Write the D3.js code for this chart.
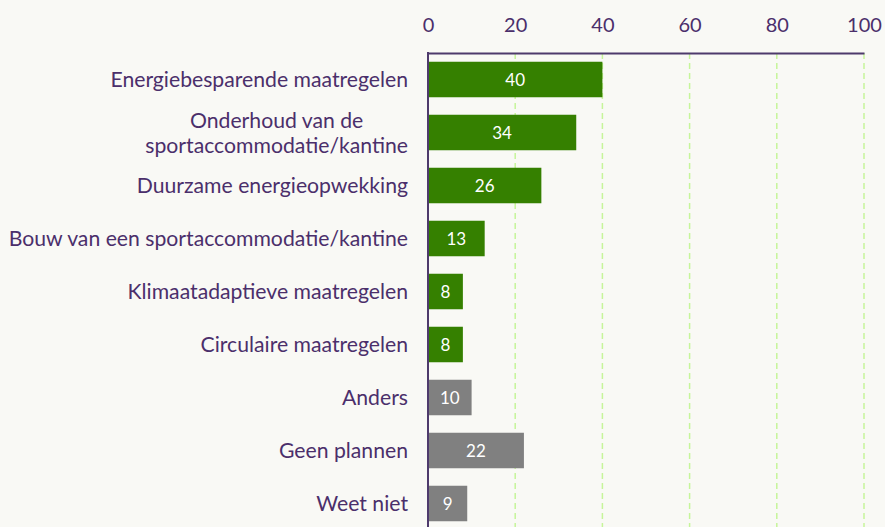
<!DOCTYPE html>
<html>
<head>
<meta charset="utf-8">
<script src="https://cdn.jsdelivr.net/npm/d3@7"></script>
<style>
  html, body { margin: 0; padding: 0; background: #f9f9f5; }
  svg { display: block; }
</style>
</head>
<body>
<svg id="chart" width="885" height="527"></svg>
<script>
// Plans per category (percentages)
const categories = [
  "Energiebesparende maatregelen",
  "Onderhoud van de\nsportaccommodatie/kantine",
  "Duurzame energieopwekking",
  "Bouw van een sportaccommodatie/kantine",
  "Klimaatadaptieve maatregelen",
  "Circulaire maatregelen",
  "Anders",
  "Geen plannen",
  "Weet niet"
];
const values = [40, 34, 26, 13, 8, 8, 10, 22, 9];
const groups = ["green", "green", "green", "green", "green", "green", "grey", "grey", "grey"];
const xTicks = [0, 20, 40, 60, 80, 100];

const colors = { green: "#358000", grey: "#808080" };
const textColor = "#4b2f6b";
const axisColor = "#4e3a6c";
const font = "Lato, 'Open Sans', sans-serif";

const svg = d3.select("#chart");
const plotLeft = 428, plotRight = 864, plotTop = 53, plotBottom = 530;

const x = d3.scaleLinear().domain([0, 100]).range([plotLeft, plotRight]);
const y = d3.scaleBand().domain(d3.range(categories.length)).range([plotTop, plotBottom]).paddingInner(0.33).paddingOuter(0.165);

// dashed gridlines
svg.append("g").selectAll("line").data(xTicks.filter(d => d > 0)).join("line")
  .attr("x1", d => x(d)).attr("x2", d => x(d))
  .attr("y1", plotTop).attr("y2", 527)
  .attr("stroke", "#c6f59a").attr("stroke-width", 1.5)
  .attr("stroke-dasharray", "6,4");

// top axis
const xAxis = svg.append("g").attr("transform", `translate(0,${plotTop})`)
  .call(d3.axisTop(x).tickValues(xTicks).tickSize(0).tickPadding(21));
xAxis.select(".domain").attr("stroke", axisColor).attr("stroke-width", 2);
xAxis.selectAll("text").attr("fill", textColor).attr("font-family", font).attr("font-size", 20);

// bars
svg.append("g").selectAll("rect").data(values).join("rect")
  .attr("x", x(0) + 1)
  .attr("y", (d, i) => y(i))
  .attr("width", d => x(d) - x(0) - 1)
  .attr("height", y.bandwidth())
  .attr("fill", (d, i) => colors[groups[i]]);

// value labels
svg.append("g").selectAll("text").data(values).join("text")
  .attr("x", d => (x(0) + x(d)) / 2)
  .attr("y", (d, i) => y(i) + y.bandwidth() / 2)
  .attr("dy", "0.36em")
  .attr("text-anchor", "middle")
  .attr("fill", "#ffffff")
  .attr("font-family", font).attr("font-size", 17)
  .text(d => d);

// left axis line
svg.append("line")
  .attr("x1", plotLeft).attr("x2", plotLeft).attr("y1", plotTop - 1).attr("y2", 527)
  .attr("stroke", axisColor).attr("stroke-width", 2);

// category labels, multi-line labels centred as a right-aligned block
const labelRight = 408;
const lg = svg.append("g");
categories.forEach((c, i) => {
  const lines = c.split("\n");
  const cy = y(i) + y.bandwidth() / 2;
  const t = lg.append("text")
    .attr("fill", textColor).attr("font-family", font).attr("font-size", 21.2);
  const lh = 25;
  lines.forEach((ln, j) => {
    t.append("tspan").attr("x", 0)
      .attr("y", cy + (j - (lines.length - 1) / 2) * lh).attr("dy", "0.36em").text(ln);
  });
  if (lines.length === 1) {
    t.attr("text-anchor", "end").selectAll("tspan").attr("x", labelRight);
  } else {
    const w = t.node().getBBox().width;
    t.attr("text-anchor", "middle").selectAll("tspan").attr("x", labelRight - w / 2);
  }
});
</script>
</body>
</html>
